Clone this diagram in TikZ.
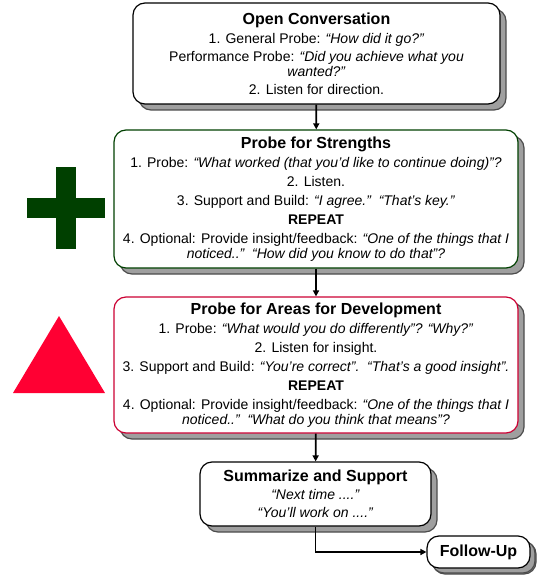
\documentclass[tikz,border=0pt]{standalone}
\usepackage{fontspec}
\setmainfont{Liberation Sans}
\usepackage{tikz}
\usetikzlibrary{arrows.meta, positioning, shadows}
\definecolor{plusgreen}{RGB}{0,64,0}
\definecolor{deltared}{RGB}{255,0,51}
\definecolor{devred}{RGB}{204,0,51}

\begin{document}
\begin{tikzpicture}[x=1pt,y=-1pt,
    stage/.style={draw,line width=1.2pt,rounded corners=12pt,fill=white,
                  align=center,inner sep=0pt,
                  font=\fontsize{14}{15}\selectfont,
                  drop shadow={shadow xshift=6pt,shadow yshift=-6pt,
                               fill=gray!75,draw=black!70,opacity=1}},
    arr/.style={-{Triangle[length=6pt,width=6pt]},line width=1.8pt}
  ]
    \useasboundingbox (0,0) rectangle (540,575);

    \node[stage,minimum width=367pt,minimum height=101pt] (open) at (316.5,53.5)
      {{\bfseries\fontsize{16}{17}\selectfont Open Conversation}\\[4pt]
       1. General Probe: \textit{“How did it go?”}\\[3pt]
       Performance Probe: \textit{“Did you achieve what you}\\
       \textit{wanted?”}\\[3pt]
       2. Listen for direction.};

    \node[stage,draw=plusgreen,minimum width=404pt,minimum height=138pt] (strength) at (316,199)
      {{\bfseries\fontsize{16}{17}\selectfont Probe for Strengths}\\[4pt]
       1. Probe: \textit{“What worked (that you’d like to continue doing)”?}\\[4pt]
       2. Listen.\\[4pt]
       3. Support and Build: \textit{“I agree.”\ \ “That’s key.”}\\[4pt]
       \textbf{REPEAT}\\[4pt]
       4. Optional: Provide insight/feedback: \textit{“One of the things that I}\\
       \textit{noticed..”\ \ “How did you know to do that”?}};

    \node[stage,draw=devred,minimum width=404pt,minimum height=136pt] (develop) at (316,365)
      {{\bfseries\fontsize{16}{17}\selectfont Probe for Areas for Development}\\[4pt]
       1. Probe: \textit{“What would you do differently”? “Why?”}\\[4pt]
       2. Listen for insight.\\[4pt]
       3. Support and Build: \textit{“You’re correct”.\ \ “That’s a good insight”.}\\[4pt]
       \textbf{REPEAT}\\[4pt]
       4. Optional: Provide insight/feedback: \textit{“One of the things that I}\\
       \textit{noticed..”\ \ “What do you think that means”?}};

    \node[stage,minimum width=231pt,minimum height=64pt] (summary) at (315.5,494)
      {{\bfseries\fontsize{16}{17}\selectfont Summarize and Support}\\[3pt]
       \textit{“Next time ....”}\\[3pt]
       \textit{“You’ll work on ....”}};

    \node[stage,minimum width=103pt,minimum height=32pt,
          drop shadow={shadow xshift=5pt,shadow yshift=-5pt,
                       fill=gray!75,draw=black!70,opacity=1}] (follow) at (478.5,552)
      {\bfseries\fontsize{16}{17}\selectfont Follow-Up};

    % plus and delta signs
    \fill[plusgreen] (56,167) rectangle (76,249);
    \fill[plusgreen] (27,198) rectangle (105,218);
    \fill[deltared] (59,316) -- (105,393) -- (13,393) -- cycle;

    \draw[arr] (open) -- (strength);
    \draw[arr] (strength) -- (develop);
    \draw[arr] (develop) -- (summary);
    \draw[arr] (summary.south) |- (follow.west);
  \end{tikzpicture}
\end{document}
